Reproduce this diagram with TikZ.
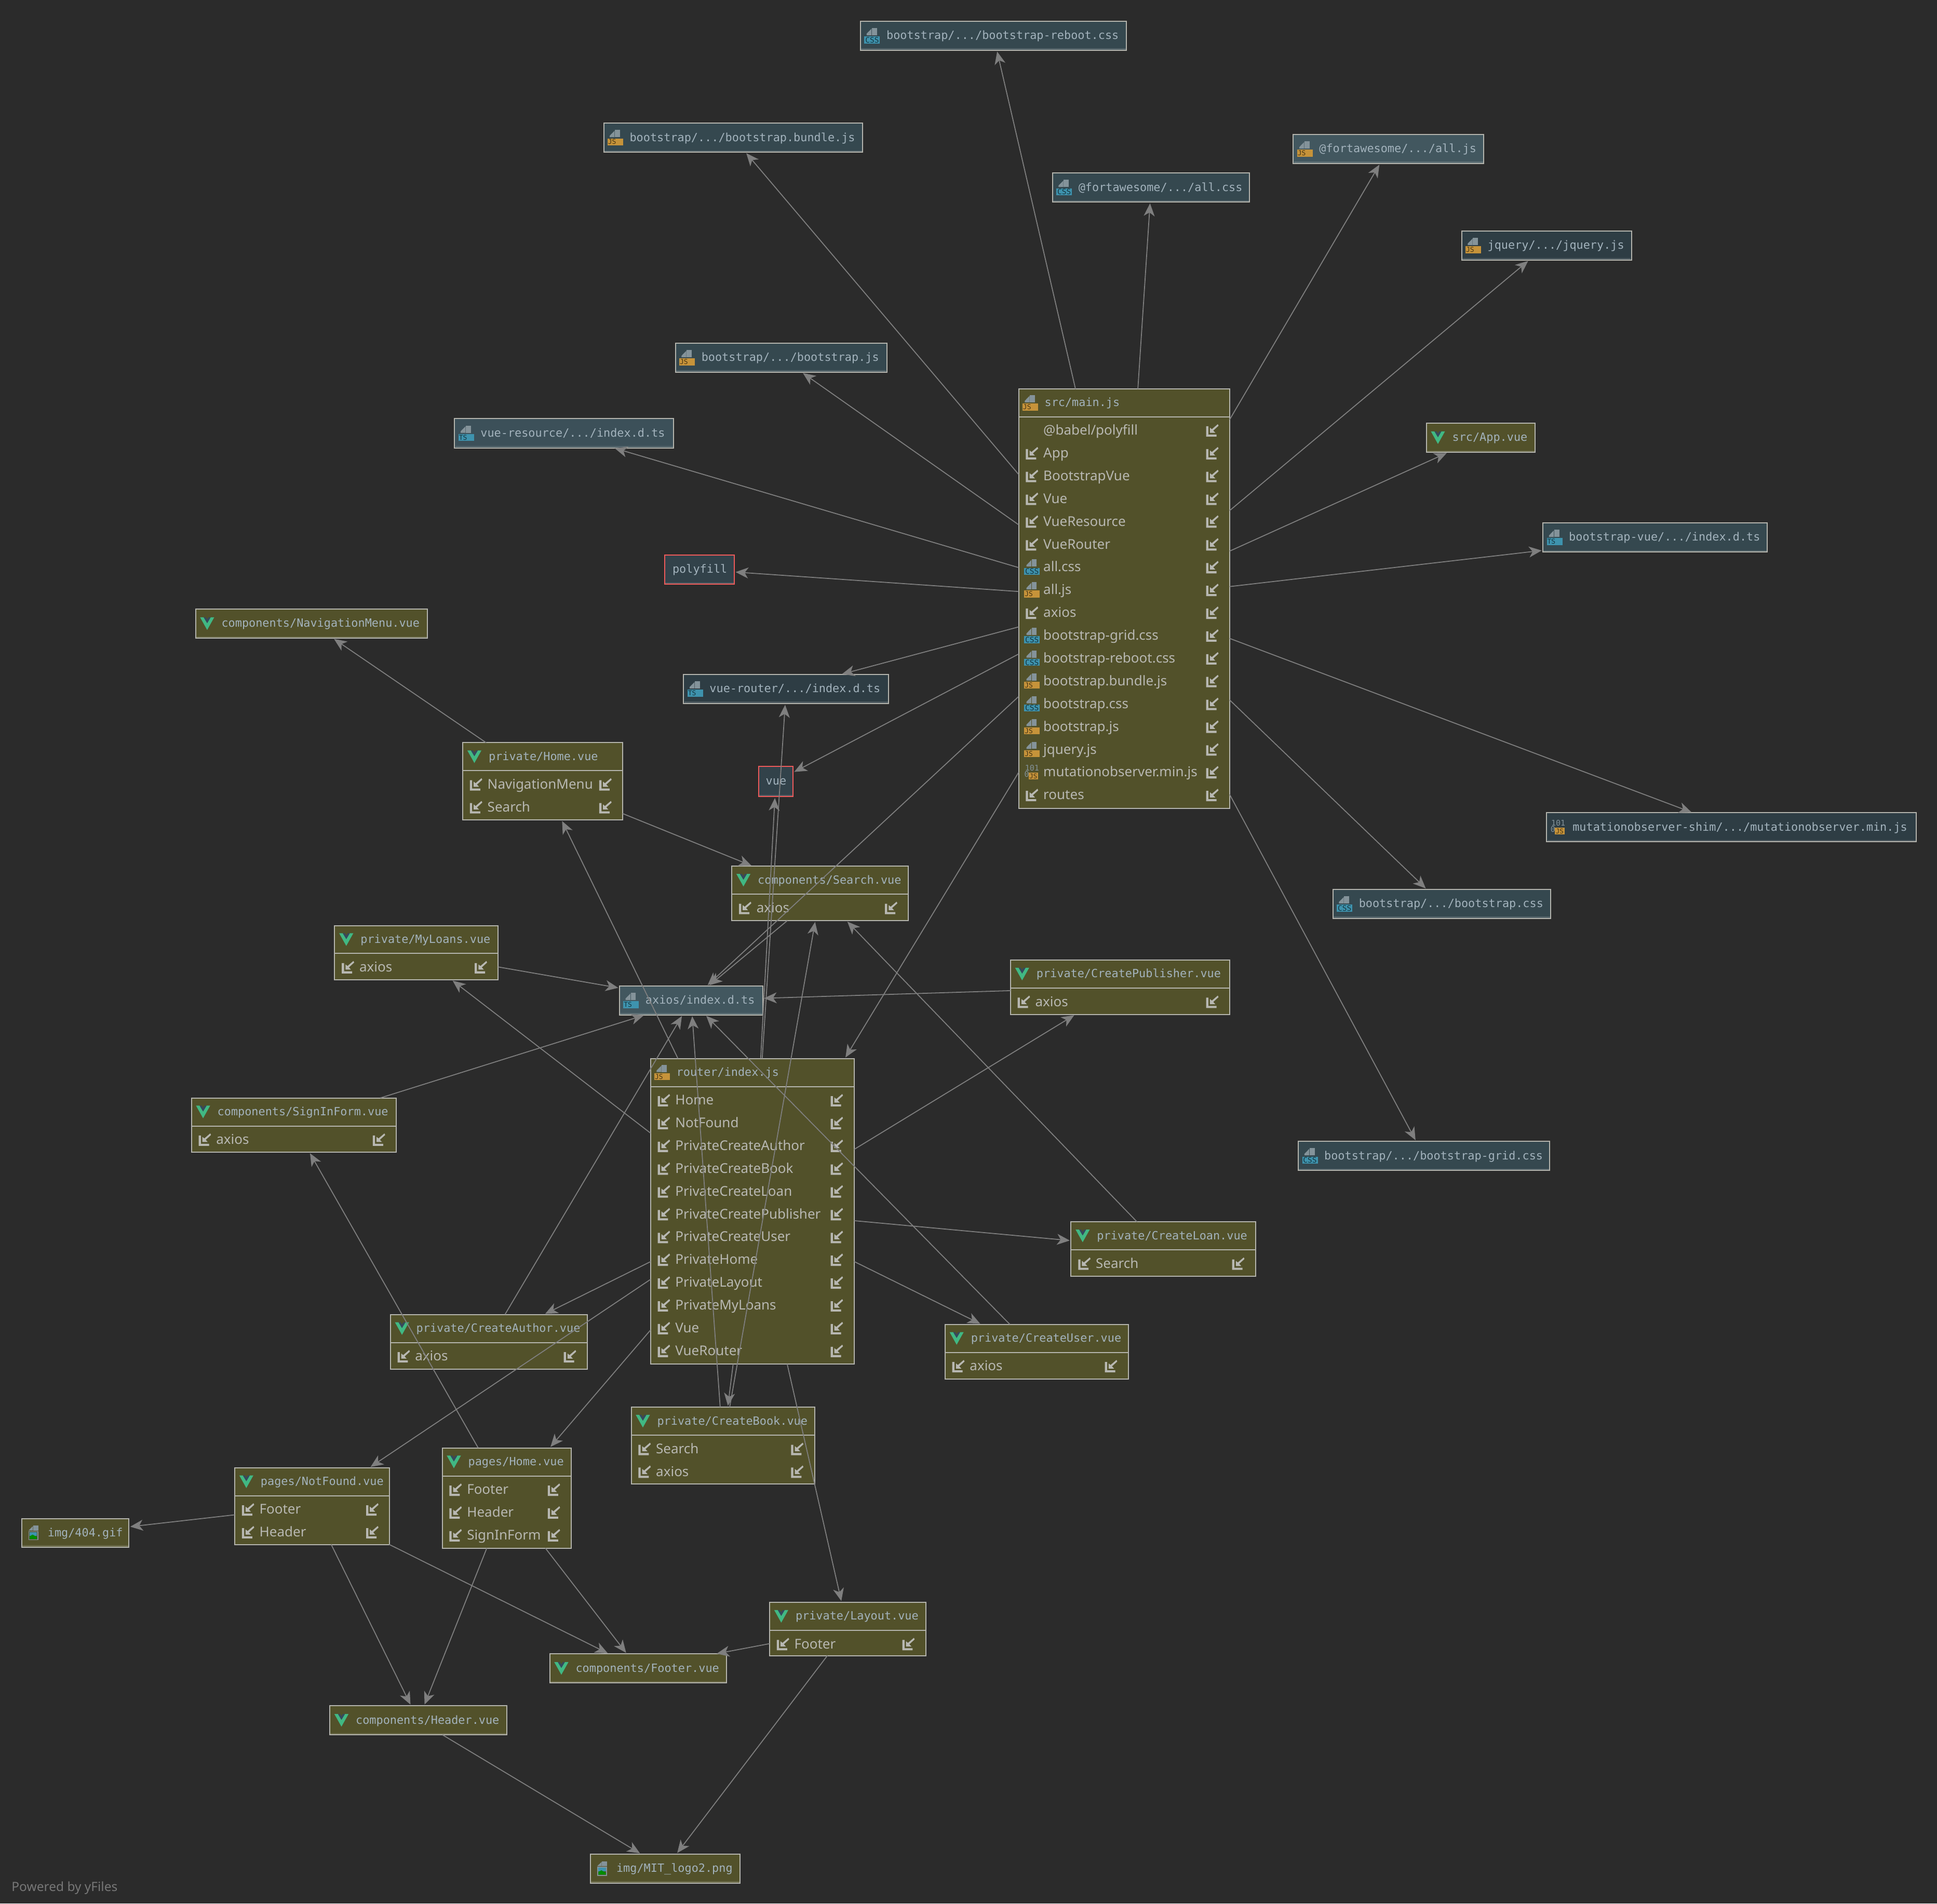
\documentclass[tikz,border=0pt]{standalone}
\usepackage{fontspec}
\setmainfont{Noto Sans}
\newfontfamily\monof{DejaVu Sans Mono}
\usetikzlibrary{arrows.meta}
\definecolor{bg}{HTML}{2B2B2B}
\definecolor{olive}{HTML}{52512A}
\definecolor{tealA}{HTML}{42575F}
\definecolor{tealM}{HTML}{3C5059}
\definecolor{tealB}{HTML}{35484F}
\definecolor{tealD}{HTML}{32424A}
\definecolor{tealC}{HTML}{2E3D44}
\definecolor{bordc}{HTML}{B5B5AE}
\definecolor{redc}{HTML}{F05A5A}
\definecolor{titlec}{HTML}{A3B3BD}
\definecolor{memc}{HTML}{B8B8B2}
\definecolor{edgec}{HTML}{7F7F7F}
\definecolor{docc}{HTML}{84939A}
\definecolor{jsc}{HTML}{C6933A}
\definecolor{cssc}{HTML}{3E93AE}
\definecolor{vueg}{HTML}{41B883}
\definecolor{vued}{HTML}{35495E}
\tikzset{
  boxn/.style={draw=bordc,line width=0.4pt,inner sep=0pt,outer sep=0pt,anchor=north west},
  titlet/.style={inner sep=0pt,anchor=base west,text=titlec,font=\monof\fontsize{4.37}{5}\selectfont},
  memt/.style={inner sep=0pt,anchor=base west,text=memc,font=\fontsize{5.2}{6}\selectfont},
  edge/.style={draw=edgec,line width=0.36pt,-{Stealth[length=4.9pt,width=4.2pt,inset=1.4pt]},shorten >=0.5pt},
}
\newcommand{\docshape}{%
  \fill[docc] (-0.3,-6.2) rectangle (3.8,-0.4);
  \fill[docc] (-4.5,-0.4) -- (-4.5,-1.6) -- (-0.6,-5.6) -- (-0.6,-0.4) -- cycle;
}
\newcommand{\icjs}[2]{\begin{scope}[shift={(#1,#2)}]\docshape\fill[jsc] (-6.3,0.6) rectangle (6.3,6.2);
  \node[inner sep=0pt,text=black!65!jsc,font=\monof\fontsize{2.6}{3}\selectfont] (jst) at (-2.6,3.4) {JS};\end{scope}}
\newcommand{\icts}[2]{\begin{scope}[shift={(#1,#2)}]\docshape\fill[cssc] (-6.3,0.6) rectangle (6.3,6.2);
  \node[inner sep=0pt,text=black!65!cssc,font=\monof\fontsize{2.6}{3}\selectfont] (tst) at (-2.6,3.4) {TS};\end{scope}}
\newcommand{\iccss}[2]{\begin{scope}[shift={(#1,#2)}]\docshape\fill[cssc] (-6.3,0.6) rectangle (6.3,6.2);
  \node[inner sep=0pt,text=black!65!cssc,font=\monof\fontsize{2.9}{3}\selectfont] (csst) at (0,3.4) {CSS};\end{scope}}
\newcommand{\icvue}[2]{\begin{scope}[shift={(#1,#2)}]
  \fill[vueg] (-5.7,-5.1) -- (-2.8,-5.1) -- (0,-0.4) -- (2.8,-5.1) -- (5.7,-5.1) -- (0,5.1) -- cycle;
  \fill[vued] (-2.8,-5.1) -- (-1.1,-5.1) -- (0,-3.2) -- (1.1,-5.1) -- (2.8,-5.1) -- (0,-0.4) -- cycle;
  \end{scope}}
\newcommand{\icimp}[2]{\begin{scope}[shift={(#1,#2)}]
  \fill[memc] (-5,-3.3) -- (-3.2,-3.3) -- (-3.2,3.4) -- (3.4,3.4) -- (3.4,5.1) -- (-5,5.1) -- cycle;
  \fill[memc] (-2,2) -- (-2,-2.2) -- (-0.4,-0.9) -- (4.4,-5) -- (5,-3.7) -- (0.7,0.2) -- (2.4,2) -- cycle;
  \end{scope}}
\newcommand{\icimg}[2]{\begin{scope}[shift={(#1,#2)}]
  \fill[docc] (0,-5.8) rectangle (3.9,-2);
  \fill[docc] (-3.9,-2) -- (-0.4,-5.4) -- (-0.4,-2) -- cycle;
  \draw[docc,line width=0.35pt] (-3.7,-1.2) rectangle (3.7,5.6);
  \fill[cssc] (-3,-0.6) rectangle (3,2.4);
  \fill[green!55!black] (-3,4.9) -- (-3,2.8) -- (-0.6,1.4) -- (3,3.4) -- (3,4.9) -- cycle;
  \end{scope}}
\newcommand{\icbin}[2]{\begin{scope}[shift={(#1,#2)}]
  \node[inner sep=0pt,text=docc,font=\monof\fontsize{3}{3}\selectfont] (bint) at (0,-3.5) {101};
  \node[inner sep=0pt,text=docc,font=\monof\fontsize{3}{3}\selectfont] (binz) at (-4.3,1.6) {0};
  \fill[jsc] (-2.7,0.2) rectangle (5,5.8);
  \node[inner sep=0pt,text=black!65!jsc,font=\monof\fontsize{2.5}{3}\selectfont] (binj) at (1.1,3.1) {JS};
  \end{scope}}
\newcommand{\icno}[2]{}
% simple box: name x0 y0 x1 y1 fill border icon text
\newcommand{\simplebox}[9]{%
  \node[boxn,fill=#6,draw=#7,minimum width={(#4-#2)*0.47577pt},minimum height={(#5-#3)*0.47577pt}] (#1) at (#2,#3) {};
  \fill[white,opacity=0.15] (#2+0.5,#5-1.5) rectangle (#4-0.5,#5-0.5);
  \pgfmathsetmacro\cy{(#3+#5)/2}
  \pgfmathsetmacro\cb{\cy+2.9}
  \pgfmathsetmacro\cx{#2+9.4}
  \csname ic#8\endcsname{\cx}{\cy}
  \node[titlet] (#1-t) at (#2+20.6,\cb) {#9};
}
% class box: name x0 y0 x1 ybar y1 icon title members
\newcommand{\classbox}[9]{%
  \node[boxn,fill=olive,minimum width={(#4-#2)*0.47577pt},minimum height={(#6-#3)*0.47577pt}] (#1) at (#2,#3) {};
  \draw[draw=bordc,line width=0.4pt] (#2,#5) -- (#4,#5);
  \pgfmathsetmacro\cy{(#3+#5)/2}
  \pgfmathsetmacro\cb{\cy+2.9}
  \pgfmathsetmacro\cx{#2+9.4}
  \csname ic#7\endcsname{\cx}{\cy}
  \node[titlet] (#1-t) at (#2+20.6,\cb) {#8};
  \foreach \mI/\mT [count=\ii from 0] in {#9}{
    \pgfmathsetmacro\ry{#5+11+\ii*18.45}
    \pgfmathsetmacro\rb{\ry+3.7}
    \pgfmathsetmacro\lx{#2+10.8}
    \pgfmathsetmacro\rx{#4-14}
    \csname ic\mI\endcsname{\lx}{\ry}
    \icimp{\rx}{\ry}
    \node[memt] (#1-m\ii) at (#2+19.6,\rb) {\mT};
  }
}
\begin{document}
\begin{tikzpicture}[x=0.47577pt,y=-0.47577pt]
\fill[bg] (0,0) rectangle (1568,1541.1);
\useasboundingbox (0,0) rectangle (1568,1541.1);
% simple nodes
\simplebox{reboot}{696.6}{17.1}{911.8}{40.7}{tealB}{bordc}{css}{bootstrap/.../bootstrap-reboot.css}
\simplebox{bundle}{488.7}{99.7}{698.3}{123.2}{tealB}{bordc}{js}{bootstrap/.../bootstrap.bundle.js}
\simplebox{fajs}{1046.9}{108.9}{1201.2}{132.4}{tealA}{bordc}{js}{@fortawesome/.../all.js}
\simplebox{facss}{852}{140}{1011.6}{163.6}{tealB}{bordc}{css}{@fortawesome/.../all.css}
\simplebox{jquery}{1183.2}{187}{1320.6}{210.6}{tealC}{bordc}{js}{jquery/.../jquery.js}
\simplebox{bsjs}{546.8}{277.8}{717.8}{301.4}{tealB}{bordc}{js}{bootstrap/.../bootstrap.js}
\simplebox{vres}{368}{339}{545.4}{362.6}{tealM}{bordc}{ts}{vue-resource/.../index.d.ts}
\simplebox{app}{1154.6}{342.4}{1242.5}{366.3}{olive}{bordc}{vue}{src/App.vue}
\simplebox{bvue}{1249}{423.2}{1430.6}{447}{tealB}{bordc}{ts}{bootstrap-vue/.../index.d.ts}
\simplebox{polyfill}{538}{449.3}{594.4}{473}{tealD}{redc}{no}{}
\node[titlet] (polyfill-l) at (544,464) {polyfill};
\simplebox{navmenu}{158.3}{493.1}{346.1}{516.7}{olive}{bordc}{vue}{components/NavigationMenu.vue}
\simplebox{vrouter}{553.4}{546}{719.4}{569.6}{tealC}{bordc}{ts}{vue-router/.../index.d.ts}
\simplebox{vue}{614}{620.5}{642}{645}{tealD}{redc}{no}{}
\node[titlet] (vue-l) at (619.5,635.5) {vue};
\simplebox{mshim}{1252}{658}{1551.2}{681.6}{tealC}{bordc}{bin}{mutationobserver-shim/.../mutationobserver.min.js}
\simplebox{bscss}{1079}{720}{1255.4}{743.6}{tealB}{bordc}{css}{bootstrap/.../bootstrap.css}
\simplebox{axiost}{501.5}{798.3}{617.4}{821.7}{tealA}{bordc}{ts}{axios/index.d.ts}
\simplebox{grid}{1051}{924}{1254.4}{947.6}{tealB}{bordc}{css}{bootstrap/.../bootstrap-grid.css}
\simplebox{gif}{17.6}{1229.5}{104.4}{1252.6}{olive}{bordc}{img}{img/404.gif}
\simplebox{footer}{445}{1339}{588.2}{1362.6}{olive}{bordc}{vue}{components/Footer.vue}
\simplebox{header}{267}{1381}{410.2}{1404.6}{olive}{bordc}{vue}{components/Header.vue}
\simplebox{mit}{478}{1501}{599.2}{1524.6}{olive}{bordc}{img}{img/MIT\_logo2.png}
% class nodes
\classbox{main}{824.6}{314.9}{995.4}{337.4}{654.6}{js}{src/main.js}{no/{@babel/polyfill},imp/App,imp/BootstrapVue,imp/Vue,imp/VueResource,imp/VueRouter,css/all.css,js/all.js,imp/axios,css/bootstrap-grid.css,css/bootstrap-reboot.css,js/bootstrap.bundle.js,css/bootstrap.css,js/bootstrap.js,js/jquery.js,bin/mutationobserver.min.js,imp/routes}
\classbox{phome}{374.6}{601.3}{504.1}{624}{663.8}{vue}{private/Home.vue}{imp/NavigationMenu,imp/Search}
\classbox{search}{592.4}{701.2}{735.4}{724}{745.4}{vue}{components/Search.vue}{imp/axios}
\classbox{myloans}{270.9}{749.4}{403.3}{772}{793.3}{vue}{private/MyLoans.vue}{imp/axios}
\classbox{cpub}{818}{777.2}{995.4}{800}{821.4}{vue}{private/CreatePublisher.vue}{imp/axios}
\classbox{router}{526.6}{857}{691.4}{879.7}{1104.4}{js}{router/index.js}{imp/Home,imp/NotFound,imp/PrivateCreateAuthor,imp/PrivateCreateBook,imp/PrivateCreateLoan,imp/PrivateCreatePublisher,imp/PrivateCreateUser,imp/PrivateHome,imp/PrivateLayout,imp/PrivateMyLoans,imp/Vue,imp/VueRouter}
\classbox{signin}{155}{888.9}{320.8}{911.6}{932.8}{vue}{components/SignInForm.vue}{imp/axios}
\classbox{cloan}{867}{989.2}{1016.4}{1012}{1033.4}{vue}{private/CreateLoan.vue}{imp/Search}
\classbox{cauthor}{316}{1064.2}{475.4}{1087}{1108.4}{vue}{private/CreateAuthor.vue}{imp/axios}
\classbox{cuser}{765}{1072.2}{913.4}{1095}{1116.4}{vue}{private/CreateUser.vue}{imp/axios}
\classbox{cbook}{511}{1139.2}{659.4}{1162}{1201.4}{vue}{private/CreateBook.vue}{imp/Search,imp/axios}
\classbox{notfound}{190}{1188.2}{315.4}{1211}{1250.4}{vue}{pages/NotFound.vue}{imp/Footer,imp/Header}
\classbox{pghome}{358}{1172.2}{462.4}{1195}{1253.4}{vue}{pages/Home.vue}{imp/Footer,imp/Header,imp/SignInForm}
\classbox{layout}{623}{1297.2}{749.4}{1320}{1340.4}{vue}{private/Layout.vue}{imp/Footer}
\node[inner sep=0pt,anchor=base west,text=white!36!bg,font=\fontsize{4.9}{6}\selectfont] (powered) at (9,1531) {Powered by yFiles};
% edges
\foreach \t in {reboot,bundle,fajs,facss,jquery,bsjs,vres,app,bvue,polyfill,vrouter,vue,mshim,bscss,grid,axiost,router}
  \draw[edge] (main) -- (\t);
\foreach \t in {navmenu,search} \draw[edge] (phome) -- (\t);
\foreach \s in {search,myloans,cpub,signin,cauthor,cbook,cuser} \draw[edge] (\s) -- (axiost);
\foreach \s in {cbook,cloan} \draw[edge] (\s) -- (search);
\foreach \t in {phome,myloans,cpub,cloan,cuser,cauthor,notfound,pghome,layout,cbook,vue,vrouter} \draw[edge] (router) -- (\t);
\foreach \t in {signin,footer,header} \draw[edge] (pghome) -- (\t);
\foreach \t in {gif,footer,header} \draw[edge] (notfound) -- (\t);
\foreach \t in {footer,mit} \draw[edge] (layout) -- (\t);
\draw[edge] (header) -- (mit);
\end{tikzpicture}
\end{document}
